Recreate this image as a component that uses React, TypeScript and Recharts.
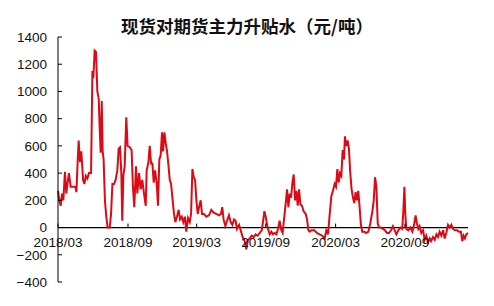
import { LineChart, Line, XAxis, YAxis, ReferenceLine } from "recharts";

// x position in weeks after 2018/03
const weeks = [
  0, 0.5, 1, 1.5, 2, 2.6, 3.1, 3.6, 4.1, 4.75, 5.6, 6.5, 6.9, 7.4, 7.75, 8.25, 8.75, 9.4, 9.9, 10.4,
  11, 11.6, 12.4, 12.9, 13.25, 13.75, 14.25, 14.75, 15.25, 15.6, 16, 16.4, 16.75, 17.1, 17.6, 18.1, 18.6, 19.4, 19.9, 20.4,
  21, 21.6, 22.25, 22.75, 23.25, 23.75, 24.1, 24.5, 25, 25.6, 26.1, 26.9, 27.6, 28.1, 28.6, 29.25, 29.75, 30.4, 31, 31.6,
  32.25, 32.9, 33.25, 33.9, 34.4, 34.9, 35.4, 35.9, 36.4, 37, 37.5, 38, 38.5, 39, 39.4, 39.9, 40.4, 40.9, 41.4, 41.9,
  42.4, 42.9, 43.5, 44, 44.6, 45.25, 45.75, 46.4, 47, 47.6, 48.1, 48.75, 49.4, 49.9, 50.4, 50.9, 51.4, 51.9, 52.4, 52.9,
  53.5, 54, 54.75, 55.6, 56.6, 57.5, 58.4, 59.4, 60.4, 61.1, 61.6, 62.1, 62.75, 63.4, 64.1, 64.75, 65.4, 66, 66.6, 67.1,
  67.9, 68.5, 69.25, 70, 70.6, 71.25, 71.9, 72.6, 73.4, 74.1, 74.9, 75.6, 76.4, 77, 77.4, 77.9, 78.4, 78.9, 79.4, 80,
  80.6, 81.25, 81.9, 82.5, 83.1, 83.75, 84.25, 84.75, 85.4, 85.9, 86.4, 86.9, 87.4, 87.9, 88.4, 88.9, 89.4, 89.9, 90.4, 90.9,
  91.5, 92.1, 92.9, 93.4, 93.9, 94.4, 95.1, 96.1, 97.1, 98.1, 99.1, 100, 100.6, 101.25, 101.9, 102.5, 103.1, 103.75, 104.25, 104.75,
  105.25, 105.75, 106.25, 106.75, 107.25, 107.6, 108.1, 108.6, 109.1, 109.6, 110.1, 110.6, 111.1, 111.6, 112.1, 112.6, 113.1, 113.6, 114.1, 114.9,
  115.6, 116.4, 117.1, 117.9, 118.4, 118.9, 119.4, 119.9, 120.4, 121.1, 121.9, 122.6, 123.4, 124.1, 124.9, 125.6, 126.25, 126.9, 127.6, 128.4,
  129.1, 129.5, 129.9, 130.25, 130.6, 131.4, 132.1, 132.9, 133.6, 134.1, 134.6, 135.1, 135.6, 136.25, 136.9, 137.5, 138.1, 138.75, 139.4, 139.9,
  140.6, 141.25, 141.9, 142.5, 143.1, 143.75, 144.4, 145, 145.6, 146.25, 146.9, 147.5, 148.1, 148.9, 149.6, 150.4, 151.1, 151.6, 152.1, 152.6,
  153.1, 153.75,
];

// spot vs main futures basis, yuan/ton
const basis = [
  270, 200, 160, 250, 200, 410, 250, 330, 400, 300, 300, 300, 260, 500, 640, 480, 560, 350, 320, 380,
  360, 400, 400, 1150, 1100, 1300, 1290, 1000, 950, 750, 550, 930, 560, 500, 200, 80, 0, 0, 100, 320,
  320, 350, 420, 580, 590, 400, 50, 380, 450, 810, 600, 590, 570, 300, 150, 450, 250, 400, 280, 350,
  250, 160, 420, 480, 600, 470, 470, 330, 420, 330, 160, 500, 530, 700, 560, 700, 620, 560, 460, 350,
  320, 220, 100, 40, 80, 130, 60, 80, 40, 80, -30, 70, 40, 100, 430, 370, 350, 200, 100, 150,
  200, 100, 100, 80, 90, 130, 110, 100, 90, 100, 150, 60, 10, 50, 90, 40, 20, 60, 50, -10,
  20, -20, -70, -100, -160, -90, -80, -60, -70, -50, -60, -40, -20, 60, 120, 80, 20, -20, -50, -30,
  -50, -40, -50, -10, 50, -20, -40, 60, 180, 280, 150, 250, 220, 330, 390, 200, 270, 160, 280, 170,
  160, 120, 100, 60, -20, -30, -20, -20, -40, -50, -60, -80, -20, -50, 100, 230, 270, 320, 300, 430,
  330, 400, 380, 570, 500, 670, 600, 640, 580, 400, 280, 220, 180, 260, 200, 270, 150, 20, -30, -30,
  -40, -30, 30, 120, 200, 370, 300, 30, 0, 0, -10, -20, -40, -40, -20, 10, -20, -50, -20, 0,
  -10, 120, 300, 100, -10, -20, 0, -30, 30, 90, 30, -10, 10, -40, -20, -90, -60, -110, -80, -100,
  -70, -90, -50, -70, -30, -60, -20, -80, -40, 20, 0, 20, -10, -20, -20, -30, -30, -100, -60, -80,
  -50, -40,
];

const tickWeeks = [0, 26.25, 52, 77.9, 104.1, 130.1];
const tickLabels = ["2018/03", "2018/09", "2019/03", "2019/09", "2020/03", "2020/09"];
const yTicks = [-400, -200, 0, 200, 400, 600, 800, 1000, 1200, 1400];

const rows = weeks.map((w, i) => ({ w, v: basis[i] }));

const W = 478;
const H = 290;
const M = { top: 29, right: 18, bottom: 15, left: 0 };
const X_AXIS_H = 1;
const Y_MIN = -400;
const Y_MAX = 1400;
const FONT = "'Liberation Sans', Arial, sans-serif";

// x axis sits on the zero line, not at the bottom of the plot
const plotH = H - M.top - M.bottom - X_AXIS_H;
const zeroY = M.top + (plotH * Y_MAX) / (Y_MAX - Y_MIN);

function XTick(props: any) {
  const { x, payload } = props;
  const idx = tickWeeks.indexOf(payload.value);
  return (
    <g>
      <line x1={x} x2={x} y1={zeroY} y2={zeroY - 4} stroke="#000" strokeWidth={1} />
      <text x={x} y={zeroY + 19} textAnchor="middle" fontSize={13.5} fontFamily={FONT} fill="#111">
        {tickLabels[idx]}
      </text>
    </g>
  );
}

export default function App() {
  return (
    <div style={{ position: "relative", width: W, height: H, background: "#fff" }}>
      <div
        style={{
          position: "absolute",
          left: 0,
          width: W,
          top: 6,
          textAlign: "center",
          fontFamily: "'Noto Sans CJK SC', sans-serif",
          fontWeight: 700,
          fontSize: 17.5,
          color: "#111",
          lineHeight: "24px",
        }}
      >
        现货对期货主力升贴水（元/吨）
      </div>
      <LineChart width={W} height={H} data={rows} margin={M}>
        <XAxis
          type="number"
          dataKey="w"
          domain={[0, 153.75]}
          ticks={tickWeeks}
          height={X_AXIS_H}
          axisLine={false}
          tickLine={false}
          tick={<XTick />}
          interval={0}
        />
        <YAxis
          type="number"
          domain={[Y_MIN, Y_MAX]}
          ticks={yTicks}
          width={50}
          interval={0}
          axisLine={{ stroke: "#000", strokeWidth: 1 }}
          tickLine={{ stroke: "#000" }}
          tickSize={-4}
          tickMargin={15}
          tickFormatter={(v: number) => (v < 0 ? `\u2212${-v}` : String(v))}
          tick={{ fontSize: 13.5, fontFamily: FONT, fill: "#111" }}
        />
        <ReferenceLine y={0} stroke="#000" strokeWidth={1.2} />
        <Line
          type="linear"
          dataKey="v"
          stroke="#dc0a14"
          strokeWidth={2}
          dot={false}
          isAnimationActive={false}
        />
      </LineChart>
    </div>
  );
}
